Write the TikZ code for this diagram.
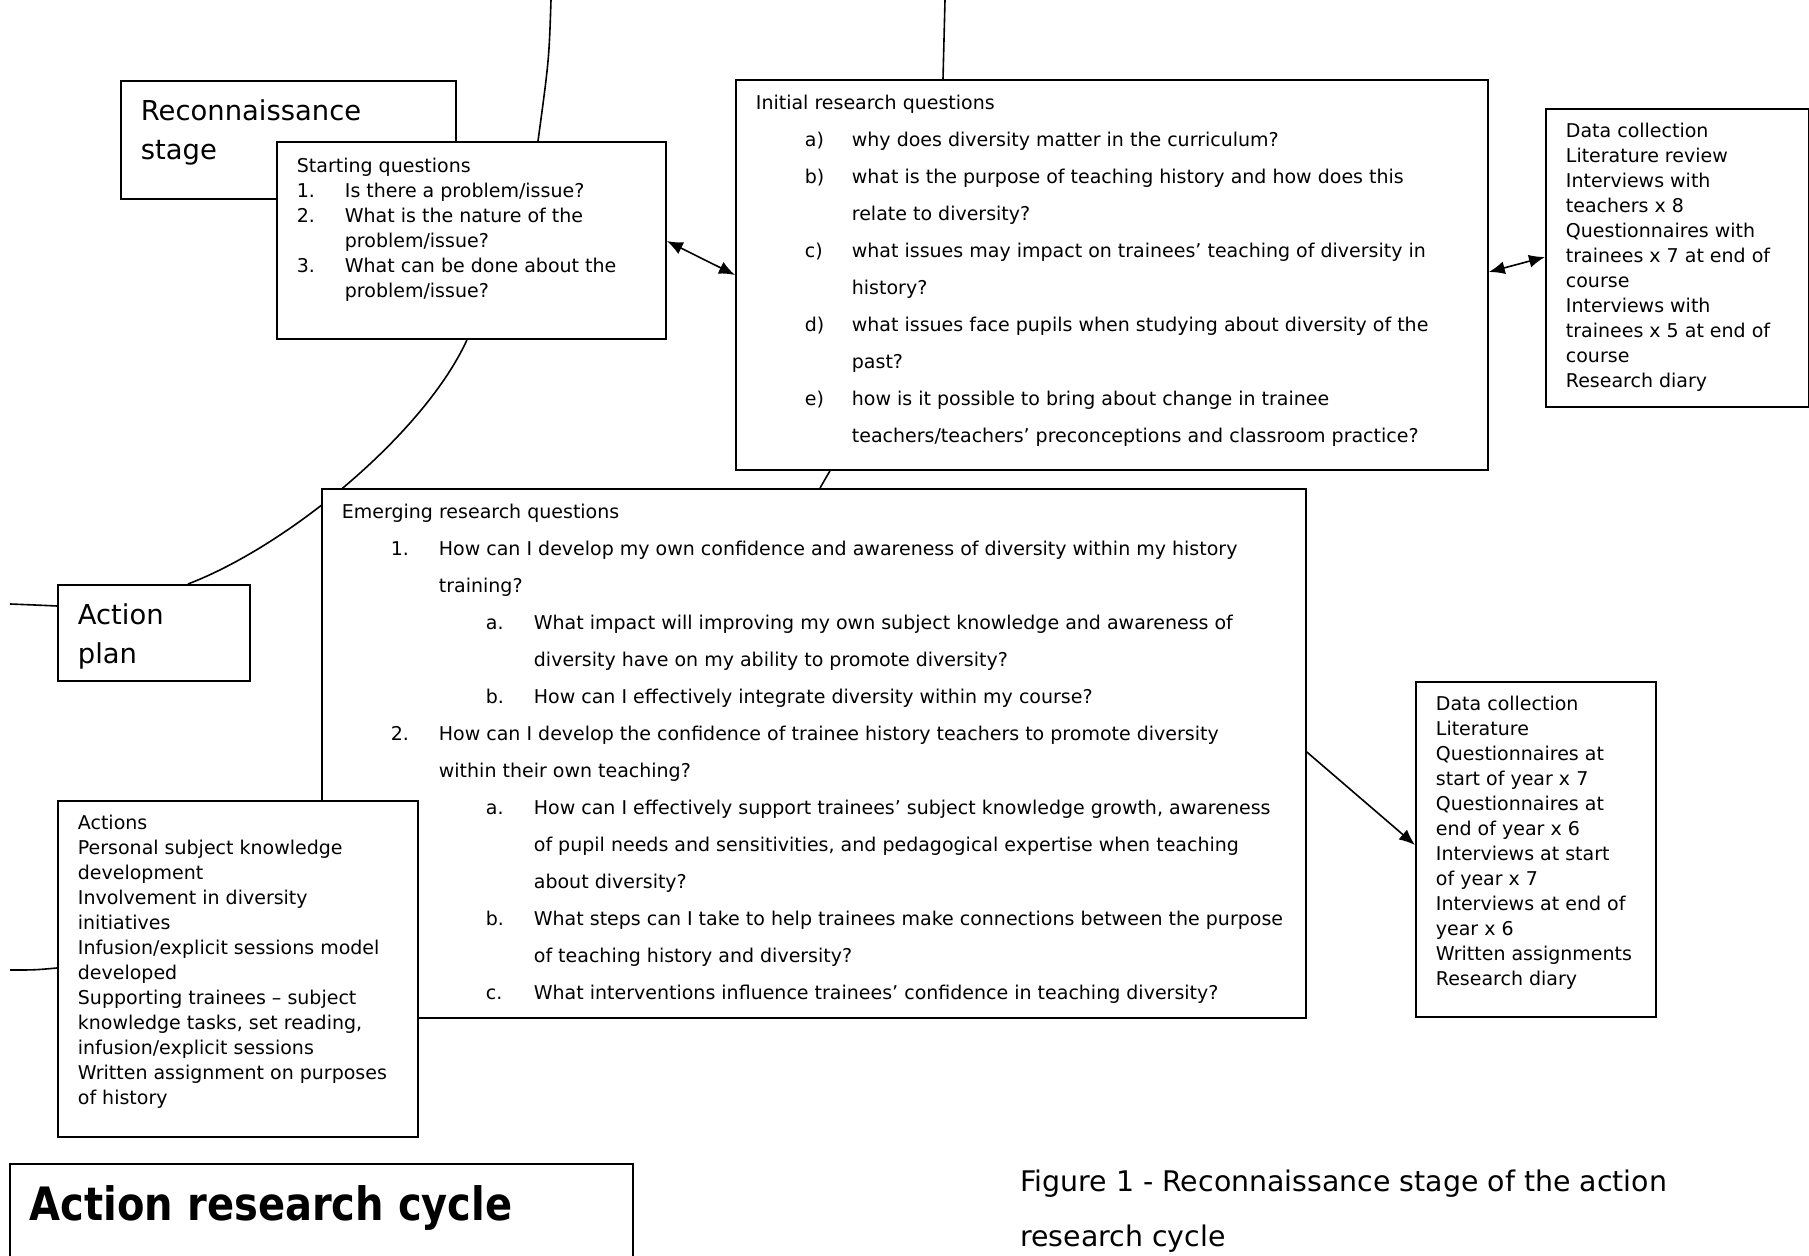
\documentclass[tikz,border=0pt]{standalone}
\usepackage{fontspec}
\setmainfont{DejaVu Sans}
\newfontfamily\titlefont{DejaVu Sans}[FakeStretch=0.87]
\usepackage{array}
\usetikzlibrary{arrows.meta, backgrounds, positioning}

\newcommand{\inbox}[4]{\parbox[t][#2][t]{#1}{\vspace*{#3}#4}}

\begin{document}
\begin{tikzpicture}[x=0.5pt, y=-0.5pt]
	\tikzset{
		boxnode/.style={rectangle, draw=black, line width=0.9pt, fill=white, anchor=north west, inner xsep=10pt, inner ysep=0pt},
		cycline/.style={line width=0.8pt},
		link/.style={line width=0.8pt, >={Latex[length=8pt, width=6.5pt]}},
	}
	\useasboundingbox (0,0) rectangle (1809,1256);

	\node[boxnode] (recon) at (120,80) {\inbox{147.5pt}{59pt}{6pt}{\fontsize{13.7}{19.5}\selectfont
		\begin{tabular}[t]{@{}l@{}}Reconnaissance\\ stage\end{tabular}}};
	\node[boxnode] (start) at (276,141) {\inbox{174.5pt}{98.5pt}{6.75pt}{\fontsize{9.5}{12.5}\selectfont
		\begin{tabular}[t]{@{}p{24pt}@{}l@{}}
			\multicolumn{2}{@{}l@{}}{Starting questions}\\
			1. & Is there a problem/issue?\\
			2. & What is the nature of the\\
			   & problem/issue?\\
			3. & What can be done about the\\
			   & problem/issue?
		\end{tabular}}};
	\node[boxnode] (init) at (735,79) {\inbox{356pt}{195pt}{2pt}{\fontsize{9.5}{18.5}\selectfont
		\begin{tabular}[t]{@{\hspace{24.5pt}}p{23.5pt}@{}l@{}}
			\multicolumn{2}{@{}l@{}}{Initial research questions}\\
			a) & why does diversity matter in the curriculum?\\
			b) & what is the purpose of teaching history and how does this\\
			   & relate to diversity?\\
			c) & what issues may impact on trainees’ teaching of diversity in\\
			   & history?\\
			d) & what issues face pupils when studying about diversity of the\\
			   & past?\\
			e) & how is it possible to bring about change in trainee\\
			   & teachers/teachers’ preconceptions and classroom practice?
		\end{tabular}}};
	\node[boxnode] (dcone) at (1545,108) {\inbox{111.5pt}{149pt}{5.75pt}{\fontsize{9.5}{12.5}\selectfont
		\begin{tabular}[t]{@{}l@{}}
			Data collection\\ Literature review\\ Interviews with\\ teachers x 8\\
			Questionnaires with\\ trainees x 7 at end of\\ course\\ Interviews with\\
			trainees x 5 at end of\\ course\\ Research diary
		\end{tabular}}};
	\node[boxnode] (emerg) at (321,488) {\inbox{472pt}{264.5pt}{2pt}{\fontsize{9.5}{18.5}\selectfont
		\begin{tabular}[t]{@{\hspace{24.5pt}}p{24pt}@{}p{23.5pt}@{}p{24pt}@{}l@{}}
			\multicolumn{4}{@{}l@{}}{Emerging research questions}\\
			1. & \multicolumn{3}{@{}l@{}}{How can I develop my own confidence and awareness of diversity within my history}\\
			   & \multicolumn{3}{@{}l@{}}{training?}\\
			   & & a. & What impact will improving my own subject knowledge and awareness of\\
			   & &    & diversity have on my ability to promote diversity?\\
			   & & b. & How can I effectively integrate diversity within my course?\\
			2. & \multicolumn{3}{@{}l@{}}{How can I develop the confidence of trainee history teachers to promote diversity}\\
			   & \multicolumn{3}{@{}l@{}}{within their own teaching?}\\
			   & & a. & How can I effectively support trainees’ subject knowledge growth, awareness\\
			   & &    & of pupil needs and sensitivities, and pedagogical expertise when teaching\\
			   & &    & about diversity?\\
			   & & b. & What steps can I take to help trainees make connections between the purpose\\
			   & &    & of teaching history and diversity?\\
			   & & c. & What interventions influence trainees’ confidence in teaching diversity?
		\end{tabular}}};
	\node[boxnode] (actplan) at (57,584) {\inbox{76pt}{48pt}{6.35pt}{\fontsize{13.7}{19.5}\selectfont
		\begin{tabular}[t]{@{}l@{}}Action\\ plan\end{tabular}}};
	\node[boxnode] (actions) at (57,800) {\inbox{160pt}{168pt}{5.75pt}{\fontsize{9.5}{12.5}\selectfont
		\begin{tabular}[t]{@{}l@{}}
			Actions\\ Personal subject knowledge\\ development\\ Involvement in diversity\\
			initiatives\\ Infusion/explicit sessions model\\ developed\\
			Supporting trainees -- subject\\ knowledge tasks, set reading,\\
			infusion/explicit sessions\\ Written assignment on purposes\\ of history
		\end{tabular}}};
	\node[boxnode] (dctwo) at (1415,681) {\inbox{100pt}{167.5pt}{5.75pt}{\fontsize{9.5}{12.5}\selectfont
		\begin{tabular}[t]{@{}l@{}}
			Data collection\\ Literature\\ Questionnaires at\\ start of year x 7\\
			Questionnaires at\\ end of year x 6\\ Interviews at start\\ of year x 7\\
			Interviews at end of\\ year x 6\\ Written assignments\\ Research diary
		\end{tabular}}};
	\node[boxnode] (cycle) at (9,1163) {\inbox{291.5pt}{60pt}{8.9pt}{\titlefont\bfseries\fontsize{23}{28}\selectfont
		\begin{tabular}[t]{@{}l@{}}Action research cycle\end{tabular}}};
	\node[anchor=base west, inner sep=0pt] (caption) at (1020,1191) {\fontsize{14.2}{27.5}\selectfont
		\begin{tabular}[t]{@{}l@{}}Figure 1 - Reconnaissance stage of the action\\ research cycle\end{tabular}};

	\coordinate (cyctopa) at (551,0);
	\coordinate (cyctopb) at (945,0);
	\coordinate (cyclefta) at (10,604);
	\coordinate (cycleftb) at (10,970);

	\begin{pgfonlayer}{background}
		\draw[cycline] (cyctopa) .. controls (549,60) .. ([xshift=131pt]start.north west);
		\draw[cycline] ([xshift=95.5pt]start.south west) .. controls (425,432) and (290,545) .. ([xshift=65.5pt]actplan.north west);
	\end{pgfonlayer}
	\draw[cycline] (cyctopb) -- ([xshift=104pt]init.north west);
	\draw[cycline] ([xshift=47.5pt]init.south west) -- ([xshift=249.5pt]emerg.north west);
	\draw[cycline] (cyclefta) .. controls (35,605) .. ([yshift=-11pt]actplan.north west);
	\draw[cycline] (cycleftb) .. controls (35,970) .. ([yshift=-84pt]actions.north west);

	\draw[link, <->] ([yshift=-50pt]start.north east) -- ([yshift=-98pt]init.north west);
	\draw[link, <->] ([yshift=-96.5pt]init.north east) -- ([yshift=-74.5pt]dcone.north west);
	\draw[link, ->] ([yshift=-132pt]emerg.north east) -- ([yshift=-82pt]dctwo.north west);
\end{tikzpicture}
\end{document}
